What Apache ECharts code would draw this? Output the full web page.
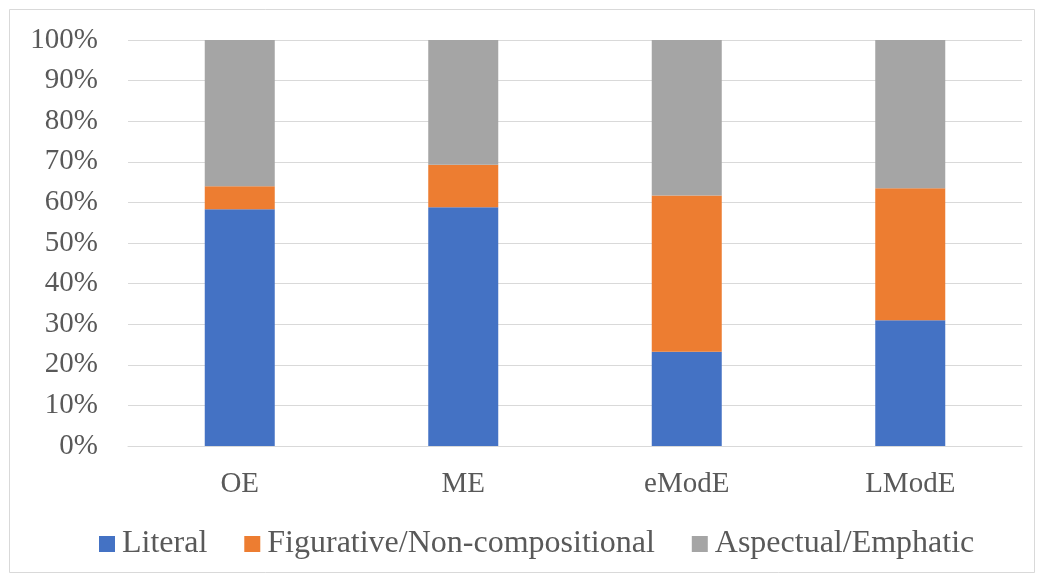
<!DOCTYPE html>
<html>
<head>
<meta charset="utf-8">
<script src="https://cdn.jsdelivr.net/npm/echarts@6/dist/echarts.min.js"></script>
<style>
  html, body { margin: 0; padding: 0; background: #fff; }
  #chart { width: 1044px; height: 581px; }
</style>
</head>
<body>
<div id="chart"></div>
<script>
// Periods of English and the share of each usage type (percent)
const periods = ['OE', 'ME', 'eModE', 'LModE'];
const literal = [58.3, 58.8, 23.2, 31.0];
const figurative = [5.7, 10.5, 38.5, 32.5];
const aspectual = [36.0, 30.7, 38.3, 36.5];
const seriesNames = ['Literal', 'Figurative/Non-compositional', 'Aspectual/Emphatic'];
const seriesColors = ['#4472C4', '#ED7D31', '#A5A5A5'];

const font = 'Liberation Serif, Times New Roman, serif';
const textColor = '#595959';

const chart = echarts.init(document.getElementById('chart'), null, { renderer: 'canvas' });

const seriesData = [literal, figurative, aspectual];

chart.setOption({
  animation: false,
  backgroundColor: '#fff',
  graphic: [{
    type: 'rect',
    shape: { x: 9.5, y: 9.5, width: 1025, height: 563 },
    style: { fill: 'none', stroke: '#d9d9d9', lineWidth: 1 },
    silent: true,
    z: -1
  }],
  grid: { left: 128, right: 22, top: 40, bottom: 135 },
  legend: {
    top: 528,
    left: 99,
    padding: 0,
    itemWidth: 16,
    itemHeight: 16,
    itemGap: 37,
    icon: 'rect',
    textStyle: { fontFamily: font, fontSize: 32, color: textColor, padding: [0, 0, 0, 2] },
    data: seriesNames
  },
  xAxis: {
    type: 'category',
    data: periods,
    axisLine: { show: true, lineStyle: { color: '#d9d9d9', width: 1 } },
    axisTick: { show: false },
    axisLabel: { fontFamily: font, fontSize: 29, color: textColor, margin: 24 }
  },
  yAxis: {
    type: 'value',
    min: 0,
    max: 100,
    interval: 10,
    axisLine: { show: false },
    axisTick: { show: false },
    splitLine: { lineStyle: { color: '#d9d9d9', width: 1 } },
    axisLabel: {
      fontFamily: font, fontSize: 29, color: textColor, margin: 30,
      formatter: v => v + '%'
    }
  },
  series: seriesNames.map((name, i) => ({
    name,
    type: 'bar',
    stack: 'total',
    barWidth: 70,
    itemStyle: { color: seriesColors[i] },
    data: seriesData[i]
  }))
});
</script>
</body>
</html>
